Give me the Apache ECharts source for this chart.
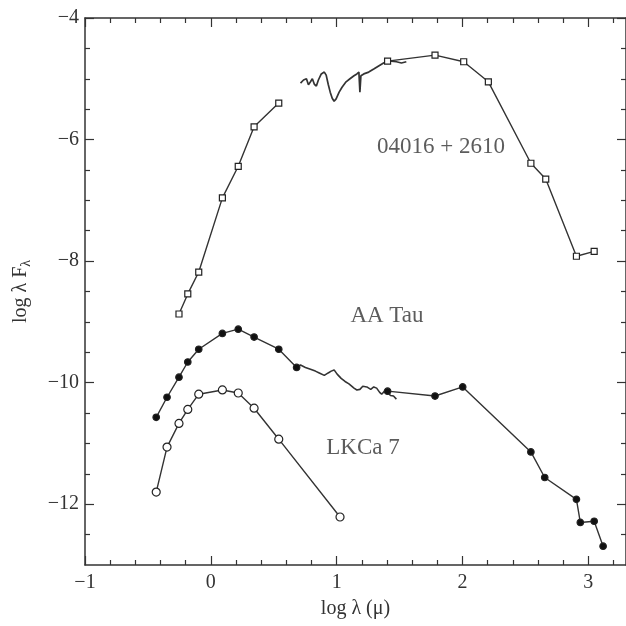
<!DOCTYPE html>
<html>
<head>
<meta charset="utf-8">
<script src="https://cdn.jsdelivr.net/npm/echarts@6/dist/echarts.min.js"></script>
<style>
  html, body { margin: 0; padding: 0; background: #fff; }
  #sed-chart { width: 626px; height: 626px; }
</style>
</head>
<body>
<div id="sed-chart"></div>
<script>
// 04016+2610: photometry (short wavelengths), spectrum, photometry (long wavelengths)
const irsOptical = [
  [-0.253, -8.87], [-0.183, -8.54], [-0.096, -8.18], [0.092, -6.96],
  [0.218, -6.44], [0.344, -5.79], [0.540, -5.40]
];
const irsSpectrum = [
  [0.713, -5.07], [0.737, -5.02], [0.760, -5.00], [0.776, -5.10], [0.792, -5.05],
  [0.807, -5.00], [0.823, -5.09], [0.839, -5.12], [0.855, -5.02], [0.878, -4.92],
  [0.902, -4.89], [0.917, -4.94], [0.933, -5.09], [0.949, -5.22], [0.965, -5.32],
  [0.980, -5.37], [0.996, -5.33], [1.020, -5.22], [1.043, -5.14], [1.075, -5.05],
  [1.106, -5.00], [1.138, -4.95], [1.161, -4.92], [1.177, -4.89], [1.185, -5.22],
  [1.193, -4.95], [1.216, -4.92], [1.255, -4.89], [1.295, -4.84], [1.334, -4.79],
  [1.373, -4.74], [1.405, -4.71], [1.436, -4.71], [1.475, -4.72], [1.515, -4.74],
  [1.554, -4.72]
];
const irsInfrared = [
  [1.405, -4.71], [1.782, -4.61], [2.010, -4.72], [2.206, -5.05], [2.544, -6.39],
  [2.662, -6.65], [2.906, -7.92], [3.047, -7.84]
];

// AA Tau
const aaTauOptical = [
  [-0.434, -10.57], [-0.348, -10.24], [-0.253, -9.91], [-0.183, -9.66], [-0.096, -9.45],
  [0.092, -9.19], [0.218, -9.12], [0.344, -9.25], [0.540, -9.45], [0.682, -9.75]
];
const aaTauSpectrum = [
  [0.682, -9.75], [0.713, -9.71], [0.752, -9.75], [0.792, -9.78], [0.831, -9.81],
  [0.862, -9.84], [0.902, -9.88], [0.933, -9.84], [0.957, -9.81], [0.980, -9.79],
  [1.004, -9.86], [1.036, -9.93], [1.067, -9.98], [1.098, -10.02], [1.138, -10.09],
  [1.161, -10.12], [1.185, -10.11], [1.208, -10.06], [1.240, -10.07], [1.271, -10.11],
  [1.295, -10.07], [1.318, -10.09], [1.342, -10.16], [1.358, -10.19], [1.381, -10.14],
  [1.405, -10.16], [1.428, -10.21], [1.452, -10.22], [1.475, -10.27]
];
const aaTauInfrared = [
  [1.405, -10.14], [1.782, -10.22], [2.002, -10.07], [2.544, -11.14], [2.654, -11.56],
  [2.906, -11.92], [2.937, -12.30], [3.047, -12.28], [3.118, -12.69]
];

// LKCa 7
const lkca7 = [
  [-0.434, -11.80], [-0.348, -11.06], [-0.253, -10.67], [-0.183, -10.44], [-0.096, -10.19],
  [0.092, -10.12], [0.218, -10.17], [0.344, -10.42], [0.540, -10.93], [1.027, -12.21]
];

// object names, placed in data coordinates
const objectNames = ['04016 + 2610', 'AA Tau', 'LKCa 7'];
const namePositions = [[1.83, -6.12], [1.40, -8.90], [1.21, -11.08]];

// axis ticks
const xMajorTicks = [-1, 0, 1, 2, 3];
const yMajorTicks = [-12, -10, -8, -6, -4];
const xMinorTicks = [];
for (let v = -0.8; v < 3.3; v += 0.2) {
  const r = Math.round(v * 10) / 10;
  if (!Number.isInteger(r)) xMinorTicks.push(r);
}
const yMinorTicks = [];
for (let v = -12.5; v < -4; v += 0.5) {
  if (v % 2 !== 0) yMinorTicks.push(v);
}

const ink = '#333';
const serif = '"Liberation Serif", "DejaVu Serif", serif';
const minus = v => String(v).replace('-', '\u2212');

function xAxisDef(position, ticks, len, labels) {
  return {
    type: 'value', position: position, min: -1, max: 3.3,
    axisLine: { show: labels, onZero: false, lineStyle: { color: ink, width: 1.5 } },
    axisTick: { show: true, inside: true, length: len, customValues: ticks, lineStyle: { color: ink, width: 1.2 } },
    axisLabel: labels ? { customValues: xMajorTicks, formatter: minus, color: ink, fontFamily: serif, fontSize: 20, margin: 8 } : { show: false },
    splitLine: { show: false }
  };
}
function yAxisDef(position, ticks, len, labels) {
  return {
    type: 'value', position: position, min: -13, max: -4,
    axisLine: { show: labels, onZero: false, lineStyle: { color: ink, width: 1.5 } },
    axisTick: { show: true, inside: true, length: len, customValues: ticks, lineStyle: { color: ink, width: 1.2 } },
    axisLabel: labels ? { customValues: yMajorTicks, formatter: minus, color: ink, fontFamily: serif, fontSize: 20, margin: 6 } : { show: false },
    splitLine: { show: false }
  };
}

function lineSeries(data, symbol, size, fill, width) {
  return {
    type: 'line', data: data, xAxisIndex: 0, yAxisIndex: 0,
    symbol: symbol, symbolSize: size, showSymbol: symbol !== 'none',
    lineStyle: { color: ink, width: width || 1.4 },
    itemStyle: { color: fill, borderColor: '#222', borderWidth: 1.2 },
    silent: true, animation: false, z: 3
  };
}

const chart = echarts.init(document.getElementById('sed-chart'));

const xBottom = xAxisDef('bottom', xMajorTicks, 9, true);
xBottom.name = 'log \u03bb (\u03bc)';
xBottom.nameLocation = 'middle';
xBottom.nameGap = 34;
xBottom.nameTextStyle = { color: ink, fontFamily: serif, fontSize: 20 };

const yLeft = yAxisDef('left', yMajorTicks, 9, true);
yLeft.name = '{m|log \u03bb F}{s|\u03bb}';
yLeft.nameLocation = 'middle';
yLeft.nameGap = 52;
yLeft.nameTextStyle = {
  rich: {
    m: { color: ink, fontFamily: serif, fontSize: 20 },
    s: { color: ink, fontFamily: serif, fontSize: 14, padding: [10, 0, 0, 0] }
  }
};

const xTop = xAxisDef('top', xMajorTicks, 9, false);
xTop.axisLine = { show: true, onZero: false, lineStyle: { color: ink, width: 1.5 } };
const yRight = yAxisDef('right', yMajorTicks, 9, false);
yRight.axisLine = { show: true, onZero: false, lineStyle: { color: ink, width: 1.5 } };

const option = {
  backgroundColor: '#fff',
  animation: false,
  grid: { left: 85, top: 18, width: 547, height: 547 },
  xAxis: [
    xBottom,
    xAxisDef('bottom', xMinorTicks, 5, false),
    xTop,
    xAxisDef('top', xMinorTicks, 5, false)
  ],
  yAxis: [
    yLeft,
    yAxisDef('left', yMinorTicks, 5, false),
    yRight,
    yAxisDef('right', yMinorTicks, 5, false)
  ],
  series: [
    lineSeries(irsOptical, 'rect', 6, '#fff'),
    lineSeries(irsSpectrum, 'none', 0, ink, 1.7),
    lineSeries(irsInfrared, 'rect', 6, '#fff'),
    lineSeries(aaTauOptical, 'circle', 6.5, '#111'),
    lineSeries(aaTauSpectrum, 'none', 0, ink, 1.6),
    lineSeries(aaTauInfrared, 'circle', 6.5, '#111'),
    lineSeries(lkca7, 'circle', 8, '#fff'),
    {
      type: 'scatter', xAxisIndex: 0, yAxisIndex: 0,
      data: objectNames.map((n, i) => ({ name: n, value: namePositions[i] })),
      symbolSize: 1, itemStyle: { color: 'rgba(0,0,0,0)' },
      label: { show: true, position: 'inside', formatter: '{b}', color: ink, fontFamily: serif, fontSize: 23 },
      silent: true
    }
  ]
};

chart.setOption(option);
</script>
</body>
</html>
